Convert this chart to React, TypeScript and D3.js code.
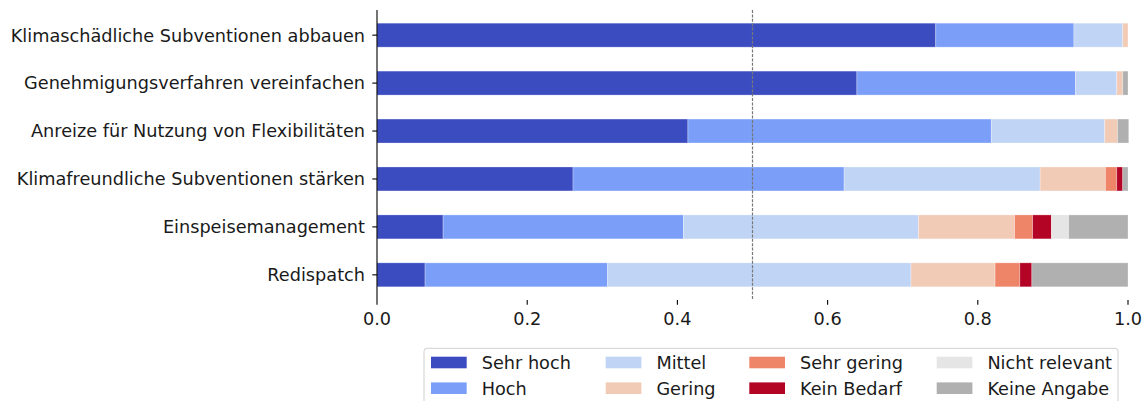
import React from "react";
import * as d3 from "d3";

const categories = [
  "Klimaschädliche Subventionen abbauen",
  "Genehmigungsverfahren vereinfachen",
  "Anreize für Nutzung von Flexibilitäten",
  "Klimafreundliche Subventionen stärken",
  "Einspeisemanagement",
  "Redispatch",
];

const seriesNames = [
  "Sehr hoch",
  "Hoch",
  "Mittel",
  "Gering",
  "Sehr gering",
  "Kein Bedarf",
  "Nicht relevant",
  "Keine Angabe",
];

const seriesColors = [
  "#3b4cc0",
  "#7b9ff9",
  "#c0d4f5",
  "#f2cbb7",
  "#ee8468",
  "#b40426",
  "#e5e5e5",
  "#b0b0b0",
];

// values per category, in series order
const sehrHoch = [0.744, 0.639, 0.414, 0.261, 0.088, 0.064];
const hoch = [0.184, 0.291, 0.404, 0.361, 0.320, 0.243];
const mittel = [0.065, 0.055, 0.151, 0.261, 0.313, 0.404];
const gering = [0.007, 0.008, 0.017, 0.087, 0.128, 0.112];
const sehrGering = [0.0, 0.0, 0.0, 0.015, 0.024, 0.033];
const keinBedarf = [0.0, 0.0, 0.0, 0.008, 0.025, 0.016];
const nichtRelevant = [0.0, 0.0, 0.0, 0.0, 0.023, 0.0];
const keineAngabe = [0.0, 0.007, 0.015, 0.007, 0.079, 0.128];

const seriesValues = [sehrHoch, hoch, mittel, gering, sehrGering, keinBedarf, nichtRelevant, keineAngabe];

const xTicks = [0, 0.2, 0.4, 0.6, 0.8, 1.0];
const refLine = 0.5;

const W = 1147;
const H = 401;
const FONT = "'DejaVu Sans', sans-serif";
const FS = 17.7;

export default function App() {
  const x = d3.scaleLinear().domain([0, 1]).range([377, 1128]);
  // matplotlib-like band: rows at 0..5, limits -0.525..5.525
  const y = d3.scaleLinear().domain([-0.525, 5.525]).range([10, 300]);
  const barH = y(0.25) - y(-0.25);

  const rows = categories.map((c, i) => {
    let acc = 0;
    const segs = seriesValues.map((vals, s) => {
      const x0 = acc;
      acc += vals[i];
      return { s, x0, x1: acc };
    });
    return { c, i, segs };
  });

  const legendCols = [
    [0, 1],
    [2, 3],
    [4, 5],
    [6, 7],
  ];
  const colSwatchX = [431, 605.7, 749.3, 936.7];
  const rowCY = [362.5, 388.2];

  return (
    <svg
      width={W}
      height={H}
      style={{ position: "absolute", left: 0, top: 0, background: "#fff" }}
      fontFamily={FONT}
    >
      {rows.map((r) => (
        <g key={r.c}>
          {r.segs
            .filter((sg) => sg.x1 - sg.x0 > 0)
            .map((sg) => (
              <rect
                key={sg.s}
                x={x(sg.x0)}
                y={y(r.i) - barH / 2}
                width={x(sg.x1) - x(sg.x0)}
                height={barH}
                fill={seriesColors[sg.s]}
                stroke="#ffffff"
                strokeOpacity={0.35}
                strokeWidth={0.8}
              />
            ))}
        </g>
      ))}

      {/* reference line */}
      <line
        x1={x(refLine)}
        x2={x(refLine)}
        y1={y(-0.525)}
        y2={y(5.525)}
        stroke="#777"
        strokeWidth={1.2}
        strokeDasharray="3,1.4"
      />

      {/* left spine */}
      <line x1={x(0)} x2={x(0)} y1={10} y2={300} stroke="#000" strokeWidth={1.1} />

      {/* y ticks & labels */}
      {categories.map((c, i) => (
        <g key={c}>
          <line x1={x(0) - 4.7} x2={x(0)} y1={y(i)} y2={y(i)} stroke="#000" strokeWidth={1.1} />
          <text
            x={365}
            y={y(i)}
            dy="0.36em"
            textAnchor="end"
            fontSize={FS}
            fill="#1a1a1a"
          >
            {c}
          </text>
        </g>
      ))}

      {/* x ticks */}
      {xTicks.map((t) => (
        <g key={t}>
          <line x1={x(t)} x2={x(t)} y1={300} y2={304.7} stroke="#000" strokeWidth={1.1} />
          <text x={x(t)} y={325} textAnchor="middle" fontSize={FS} fill="#1a1a1a">
            {d3.format(".1f")(t)}
          </text>
        </g>
      ))}

      {/* legend */}
      <rect
        x={424}
        y={348.3}
        width={694}
        height={70}
        rx={3}
        fill="#fff"
        fillOpacity={0.8}
        stroke="#d0d0d0"
        strokeWidth={1}
      />
      {legendCols.map((col, ci) =>
        col.map((s, ri) => (
          <g key={s}>
            <rect
              x={colSwatchX[ci]}
              y={rowCY[ri] - 5.8}
              width={35.7}
              height={11.6}
              fill={seriesColors[s]}
            />
            <text
              x={colSwatchX[ci] + 50.7}
              y={rowCY[ri]}
              dy="0.36em"
              fontSize={FS}
              fill="#1a1a1a"
            >
              {seriesNames[s]}
            </text>
          </g>
        ))
      )}
    </svg>
  );
}
